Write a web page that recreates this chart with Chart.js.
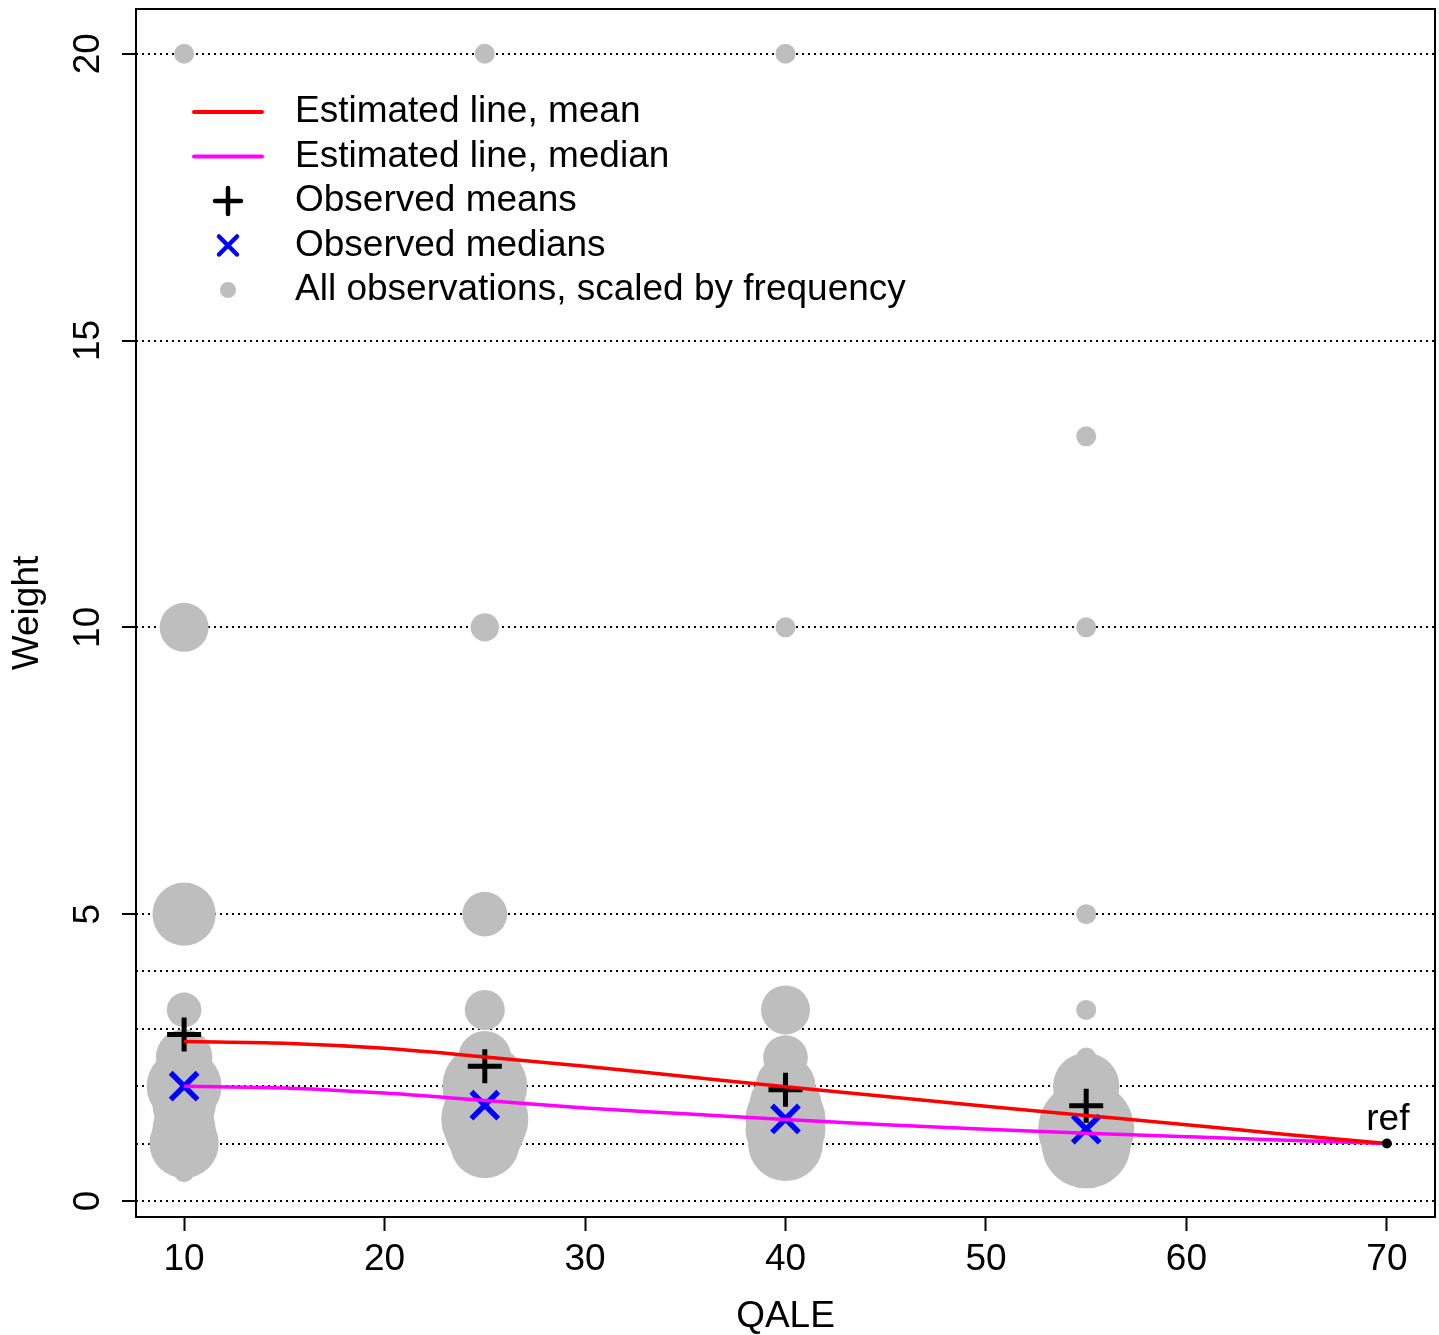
<!DOCTYPE html>
<html>
<head>
<meta charset="utf-8">
<script src="https://cdn.jsdelivr.net/npm/chart.js@4.4.1/dist/chart.umd.min.js"></script>
<style>
  html, body { margin: 0; padding: 0; background: #fff; }
  canvas { display: block; }
</style>
</head>
<body>
<canvas id="chart" width="1439" height="1335"></canvas>
<script>
// observations: QALE level, weight, frequency (bubble area ~ frequency)
const obsQale = [
  10, 10, 10, 10, 10, 10, 10, 10, 10, 10, 10,
  25, 25, 25, 25, 25, 25, 25, 25, 25, 25,
  40, 40, 40, 40, 40, 40, 40, 40, 40,
  55, 55, 55, 55, 55, 55, 55, 55, 55, 55, 55
];
const obsWeight = [
  20, 10, 5, 3.33, 2.5, 2, 1.67, 1.43, 1.25, 1, 0.5,
  20, 10, 5, 3.33, 2.5, 2, 1.67, 1.43, 1.25, 1,
  20, 10, 3.33, 2.5, 2, 1.67, 1.43, 1.25, 1,
  13.33, 10, 5, 3.33, 2.5, 2, 1.67, 1.43, 1.25, 1.11, 1
];
const obsFreq = [
  1, 6, 10, 3, 8, 14, 10, 9, 10, 12, 1,
  1, 2, 5, 4, 7, 18, 16, 19, 16, 12,
  1, 1, 6, 5, 9, 13, 16, 16, 14,
  1, 1, 1, 1, 1, 11, 12, 16, 23, 20, 20
];

// observed means / medians per QALE level
const qaleLevels = [10, 25, 40, 55];
const obsMeans = [2.9, 2.35, 1.94, 1.66];
const obsMedians = [2.0, 1.67, 1.43, 1.25];

// estimated lines
const fitQale = [10, 15, 20, 25, 30, 35, 40, 45, 50, 55, 60, 65, 70];
const fitMean = [2.78, 2.75, 2.66, 2.51, 2.35, 2.17, 1.99, 1.82, 1.65, 1.49, 1.33, 1.16, 1.0];
const fitMedian = [2.0, 1.97, 1.88, 1.75, 1.62, 1.52, 1.42, 1.33, 1.25, 1.18, 1.12, 1.06, 1.0];

// reference point
const refQale = [70];
const refWeight = [1];

// axis ticks
const xTicks = [10, 20, 30, 40, 50, 60, 70];
const yGrid = [0, 1, 2, 3, 4, 5, 10, 15, 20];
const yLabels = [0, 5, 10, 15, 20];

const FONT = '"Liberation Sans", Arial, sans-serif';
const GRAY = '#bebebe';

const zip = (xs, ys) => xs.map((x, i) => ({ x, y: ys[i] }));
const bubbleR = n => 10 * Math.sqrt(n);

const rLegend = {
  id: 'rLegend',
  afterDraw(chart) {
    const { ctx, chartArea } = chart;
    const items = [
      { kind: 'line', color: 'red', text: 'Estimated line, mean' },
      { kind: 'line', color: '#ff00ff', text: 'Estimated line, median' },
      { kind: 'plus', color: '#000', text: 'Observed means' },
      { kind: 'cross', color: '#0000ff', text: 'Observed medians' },
      { kind: 'dot', color: GRAY, text: 'All observations, scaled by frequency' }
    ];
    const symX = chartArea.left + 92;
    const textX = chartArea.left + 159;
    let y = chartArea.top + 103;
    ctx.save();
    ctx.font = '37px ' + FONT;
    ctx.textBaseline = 'middle';
    items.forEach(it => {
      ctx.strokeStyle = it.color;
      ctx.fillStyle = it.color;
      ctx.lineCap = 'round';
      if (it.kind === 'line') {
        ctx.lineWidth = 4;
        ctx.beginPath();
        ctx.moveTo(symX - 34, y);
        ctx.lineTo(symX + 34, y);
        ctx.stroke();
      } else if (it.kind === 'plus') {
        ctx.lineWidth = 4.5;
        ctx.beginPath();
        ctx.moveTo(symX - 13, y); ctx.lineTo(symX + 13, y);
        ctx.moveTo(symX, y - 13); ctx.lineTo(symX, y + 13);
        ctx.stroke();
      } else if (it.kind === 'cross') {
        ctx.lineWidth = 4.5;
        ctx.beginPath();
        ctx.moveTo(symX - 9, y - 9); ctx.lineTo(symX + 9, y + 9);
        ctx.moveTo(symX - 9, y + 9); ctx.lineTo(symX + 9, y - 9);
        ctx.stroke();
      } else {
        ctx.beginPath();
        ctx.arc(symX, y, 8, 0, Math.PI * 2);
        ctx.fill();
      }
      ctx.fillStyle = '#000';
      ctx.fillText(it.text, textX, y);
      y += 44.5;
    });
    ctx.restore();
  }
};

const refLabel = {
  id: 'refLabel',
  afterDatasetsDraw(chart) {
    const { ctx, scales } = chart;
    const px = scales.x.getPixelForValue(refQale[0]);
    const py = scales.y.getPixelForValue(refWeight[0]);
    ctx.save();
    ctx.font = '37px ' + FONT;
    ctx.fillStyle = '#000';
    ctx.textAlign = 'center';
    ctx.textBaseline = 'alphabetic';
    ctx.fillText('ref', px + 1, py - 14);
    ctx.restore();
  }
};

const plotBox = {
  id: 'plotBox',
  afterDraw(chart) {
    const { ctx, chartArea: a } = chart;
    ctx.save();
    ctx.strokeStyle = '#000';
    ctx.lineWidth = 2;
    ctx.strokeRect(a.left, a.top, a.right - a.left, a.bottom - a.top);
    ctx.restore();
  }
};

new Chart(document.getElementById('chart'), {
  type: 'scatter',
  data: {
    datasets: [
      {
        type: 'scatter',
        label: 'ref',
        data: zip(refQale, refWeight),
        pointRadius: 5,
        pointBackgroundColor: '#000',
        pointBorderWidth: 0,
        order: 0
      },
      {
        type: 'line',
        label: 'Estimated line, mean',
        data: zip(fitQale, fitMean),
        borderColor: '#ff0000',
        borderWidth: 3.5,
        pointRadius: 0,
        cubicInterpolationMode: 'monotone',
        fill: false,
        order: 1
      },
      {
        type: 'line',
        label: 'Estimated line, median',
        data: zip(fitQale, fitMedian),
        borderColor: '#ff00ff',
        borderWidth: 3.5,
        pointRadius: 0,
        cubicInterpolationMode: 'monotone',
        fill: false,
        order: 1
      },
      {
        type: 'scatter',
        label: 'Observed means',
        data: zip(qaleLevels, obsMeans),
        pointStyle: 'cross',
        pointRadius: 17,
        borderColor: '#000',
        borderWidth: 5,
        pointBorderWidth: 5,
        order: 2
      },
      {
        type: 'scatter',
        label: 'Observed medians',
        data: zip(qaleLevels, obsMedians),
        pointStyle: 'crossRot',
        pointRadius: 19,
        borderColor: '#0000ff',
        borderWidth: 5.5,
        pointBorderWidth: 5.5,
        order: 2
      },
      {
        type: 'bubble',
        label: 'All observations, scaled by frequency',
        data: obsQale.map((q, i) => ({ x: q, y: obsWeight[i], r: bubbleR(obsFreq[i]) })),
        backgroundColor: GRAY,
        borderWidth: 0,
        hoverRadius: 0,
        order: 3
      }
    ]
  },
  options: {
    responsive: false,
    animation: false,
    devicePixelRatio: 1,
    layout: { autoPadding: false, padding: { top: 9, right: 4, left: 0, bottom: 0 } },
    plugins: {
      legend: { display: false },
      tooltip: { enabled: false }
    },
    scales: {
      x: {
        type: 'linear',
        min: 7.6,
        max: 72.4,
        afterBuildTicks: s => { s.ticks = xTicks.map(v => ({ value: v })); },
        afterFit: s => { s.height = 118; s.paddingLeft = 0; s.paddingRight = 0; },
        grid: {
          drawOnChartArea: false,
          drawTicks: true,
          tickLength: 14,
          tickWidth: 2,
          tickColor: '#000'
        },
        border: { display: false },
        ticks: {
          color: '#000',
          padding: 7,
          font: { family: FONT, size: 37 },
          maxRotation: 0,
          autoSkip: false
        },
        title: {
          display: true,
          text: 'QALE',
          color: '#000',
          font: { family: FONT, size: 37, lineHeight: 1 },
          padding: { top: 0, bottom: 0 }
        }
      },
      y: {
        type: 'linear',
        min: -0.28,
        max: 20.78,
        afterBuildTicks: s => { s.ticks = yGrid.map(v => ({ value: v })); },
        afterFit: s => { s.width = 136; s.paddingTop = 0; s.paddingBottom = 0; },
        grid: {
          drawOnChartArea: true,
          color: '#000',
          lineWidth: 2,
          tickLength: 14,
          tickWidth: 2,
          tickColor: c => (yLabels.includes(c.tick.value) ? '#000' : 'rgba(0,0,0,0)')
        },
        border: { display: false, dash: [2, 4] },
        ticks: {
          color: '#000',
          padding: 13,
          crossAlign: 'center',
          minRotation: 90,
          maxRotation: 90,
          autoSkip: false,
          font: { family: FONT, size: 37 },
          callback: v => (yLabels.includes(v) ? String(v) : '')
        },
        title: {
          display: true,
          text: 'Weight',
          color: '#000',
          font: { family: FONT, size: 37, lineHeight: 1 },
          padding: { top: 9, bottom: 0 }
        }
      }
    }
  },
  plugins: [refLabel, rLegend, plotBox]
});
</script>
</body>
</html>
